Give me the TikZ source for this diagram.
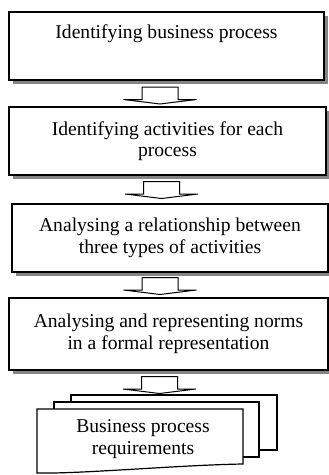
\documentclass[tikz,border=0pt]{standalone}
\usepackage{fontspec}
\setmainfont{Liberation Serif}
\usetikzlibrary{shadows}
\begin{document}
\begin{tikzpicture}[x=1pt,y=-1pt,
  stepbox/.style={draw=black, line width=1.4pt, fill=white, rectangle, inner sep=0pt,
    align=center, font=\fontsize{19.6}{21.5}\selectfont,
    drop shadow={shadow xshift=4pt, shadow yshift=-4pt, opacity=1, fill=black!48}},
  pagebox/.style={draw=black, line width=1.2pt, fill=white},
  barrow/.pic={\draw[line width=1pt, fill=white, line join=miter]
     (-18,0) -- (18,0) -- (18,12.5) -- (36.5,12.5) -- (0,17) -- (-36.5,12.5) -- (-18,12.5) -- cycle;}
]
\useasboundingbox (0,0) rectangle (329,475);

\node[stepbox, minimum width=315pt, minimum height=68pt] (b1) at (166.5,46)
  {Identifying business process\\ \strut};
\node[stepbox, minimum width=317pt, minimum height=68pt] (b2) at (167.5,141)
  {Identifying activities for each\\process};
\node[stepbox, minimum width=316pt, minimum height=68pt] (b3) at (170,238)
  {Analysing a relationship between\\three types of activities};
\node[stepbox, minimum width=319pt, minimum height=72pt] (b4) at (168.5,334)
  {Analysing and representing norms\\in a formal representation};

\pic at (160,87) {barrow};
\pic at (161.5,181.5) {barrow};
\pic at (160,277.5) {barrow};
\pic at (159.5,376.5) {barrow};

% document stack
\draw[pagebox] (71,395) rectangle (277,450);
\draw[pagebox] (54,402) rectangle (259,457);
\draw[pagebox] (37,409) -- (243,409) -- (243,464)
  .. controls (180,465) and (80,474) .. (37,473) -- cycle;
\node[align=center, font=\fontsize{19.6}{21.5}\selectfont, inner sep=0pt] (doc) at (143,439)
  {Business process\\requirements};
\end{tikzpicture}
\end{document}
